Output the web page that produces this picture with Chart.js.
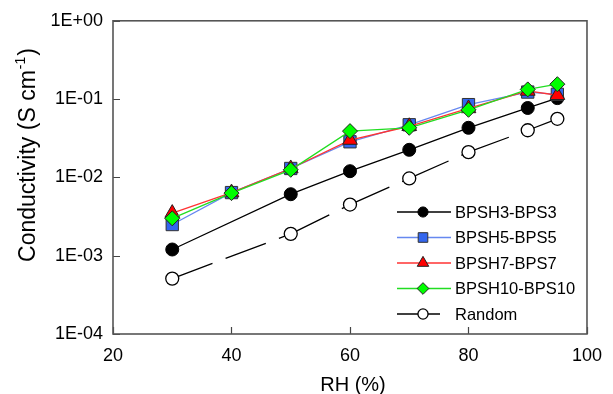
<!DOCTYPE html>
<html>
<head>
<meta charset="utf-8">
<script src="https://cdn.jsdelivr.net/npm/chart.js@4.4.1/dist/chart.umd.min.js"></script>
<style>
  html, body { margin: 0; padding: 0; background: #fff; }
</style>
</head>
<body>
<canvas id="myChart" width="613" height="394"></canvas>
<script>
// values (RH in %, conductivity in S/cm)
const rhFull = [30, 40, 50, 60, 70, 80, 90, 95];
const rhNo40 = [30, 50, 60, 70, 80, 90, 95];
const bpsh3 = [1.2e-3, 6.1e-3, 1.2e-2, 2.25e-2, 4.3e-2, 7.7e-2, 1.03e-1];
const bpsh5 = [2.5e-3, 6.4e-3, 1.3e-2, 2.85e-2, 4.7e-2, 8.5e-2, 1.23e-1, 1.15e-1];
const bpsh7 = [3.5e-3, 6.4e-3, 1.3e-2, 3.0e-2, 4.5e-2, 7.6e-2, 1.27e-1, 1.12e-1];
const bpsh10 = [3.0e-3, 6.3e-3, 1.25e-2, 3.9e-2, 4.3e-2, 7.3e-2, 1.33e-1, 1.55e-1];
const random = [5.1e-4, 1.9e-3, 4.5e-3, 9.7e-3, 2.1e-2, 4.0e-2, 5.6e-2];
const seriesNames = ['BPSH3-BPS3', 'BPSH5-BPS5', 'BPSH7-BPS7', 'BPSH10-BPS10', 'Random'];
const xTicks = [20, 40, 60, 80, 100];
const yTicks = [1e-4, 1e-3, 1e-2, 1e-1, 1];

const FONT = '"Liberation Sans", Arial, sans-serif';

const pts = (xs, ys) => xs.map((x, i) => ({ x: x, y: ys[i] }));

function expLabel(v) {
  const e = Math.round(Math.log10(v));
  return '1E' + (e < 0 ? '-' : '+') + String(Math.abs(e)).padStart(2, '0');
}

// draw a marker like chart.js pointStyle does
function marker(ctx, style, r, x, y, fill, stroke, bw) {
  ctx.save();
  ctx.beginPath();
  if (style === 'circle') {
    ctx.arc(x, y, r, 0, Math.PI * 2);
  } else if (style === 'rect') {
    const s = r * Math.SQRT1_2;
    ctx.rect(x - s, y - s, 2 * s, 2 * s);
  } else if (style === 'rectRot') {
    ctx.moveTo(x, y - r); ctx.lineTo(x + r, y); ctx.lineTo(x, y + r); ctx.lineTo(x - r, y);
    ctx.closePath();
  } else if (style === 'triangle') {
    for (let k = 0; k < 3; k++) {
      const a = k * 2 * Math.PI / 3;
      const px = x + Math.sin(a) * r, py = y - Math.cos(a) * r;
      k ? ctx.lineTo(px, py) : ctx.moveTo(px, py);
    }
    ctx.closePath();
  }
  ctx.fillStyle = fill;
  ctx.fill();
  ctx.lineWidth = bw;
  ctx.strokeStyle = stroke;
  ctx.stroke();
  ctx.restore();
}

const decor = {
  id: 'decor',
  afterDraw(chart) {
    const ctx = chart.ctx;
    const a = chart.chartArea;
    const xs = chart.scales.x, ys = chart.scales.y;
    ctx.save();
    // inward ticks
    ctx.strokeStyle = '#444';
    ctx.lineWidth = 1.2;
    ctx.beginPath();
    xTicks.forEach(v => {
      const px = Math.round(xs.getPixelForValue(v)) + 0.5;
      ctx.moveTo(px, a.bottom); ctx.lineTo(px, a.bottom - 7);
    });
    yTicks.forEach(v => {
      const py = Math.round(ys.getPixelForValue(v)) + 0.5;
      ctx.moveTo(a.left, py); ctx.lineTo(a.left + 7, py);
    });
    ctx.stroke();
    // frame
    ctx.lineWidth = 1.6;
    ctx.strokeStyle = '#555';
    ctx.strokeRect(a.left, a.top, a.right - a.left, a.bottom - a.top);

    // axis titles
    ctx.fillStyle = '#000';
    ctx.font = '20px ' + FONT;
    ctx.textAlign = 'center';
    ctx.textBaseline = 'alphabetic';
    ctx.fillText('RH (%)', (a.left + a.right) / 2 + 3, 391);

    ctx.save();
    ctx.translate(35, 155);
    ctx.rotate(-Math.PI / 2);
    ctx.textAlign = 'left';
    const main = 'Conductivity (S cm';
    ctx.font = '23px ' + FONT;
    const w1 = ctx.measureText(main).width;
    ctx.font = '14px ' + FONT;
    const w2 = ctx.measureText('-1').width;
    ctx.font = '23px ' + FONT;
    const w3 = ctx.measureText(')').width;
    let x0 = -(w1 + w2 + w3 + 2) / 2;
    ctx.fillText(main, x0, 0);
    ctx.font = '14px ' + FONT;
    ctx.fillText('-1', x0 + w1 + 1, -10);
    ctx.font = '23px ' + FONT;
    ctx.fillText(')', x0 + w1 + w2 + 2, 0);
    ctx.restore();

    // legend
    ctx.font = '16.5px ' + FONT;
    ctx.textAlign = 'left';
    ctx.textBaseline = 'middle';
    chart.data.datasets.forEach((ds, i) => {
      const y = 212 + i * 25.5;
      const dashed = ds.borderDash && ds.borderDash.length;
      ctx.save();
      ctx.strokeStyle = ds.borderColor;
      ctx.lineWidth = ds.borderWidth;
      ctx.beginPath();
      ctx.moveTo(397, y);
      ctx.lineTo(dashed ? 440 : 451, y);
      ctx.stroke();
      ctx.restore();
      marker(ctx, ds.pointStyle, ds.pointRadius * 0.78, 423, y,
        ds.pointBackgroundColor, ds.pointBorderColor, ds.pointBorderWidth);
      ctx.fillStyle = '#000';
      ctx.fillText(ds.label, 455, y + 1);
    });
    ctx.restore();
  }
};

const ctx = document.getElementById('myChart');
const myChart = new Chart(ctx, {
  type: 'line',
  data: {
    datasets: [{
      label: seriesNames[0],
      data: pts(rhNo40, bpsh3),
      borderColor: '#000', borderWidth: 1.3,
      pointStyle: 'circle', pointRadius: 6.5,
      pointBackgroundColor: '#000', pointBorderColor: '#000', pointBorderWidth: 1,
      order: 3
    }, {
      label: seriesNames[1],
      data: pts(rhFull, bpsh5),
      borderColor: '#6688f0', borderWidth: 1.3,
      pointStyle: 'rect', pointRadius: 8.7,
      pointBackgroundColor: '#3366ee', pointBorderColor: '#333', pointBorderWidth: 1,
      order: 2
    }, {
      label: seriesNames[2],
      data: pts(rhFull, bpsh7),
      borderColor: '#ff3333', borderWidth: 1.3,
      pointStyle: 'triangle', pointRadius: 8.5,
      pointBackgroundColor: '#ff0000', pointBorderColor: '#222', pointBorderWidth: 1,
      order: 1
    }, {
      label: seriesNames[3],
      data: pts(rhFull, bpsh10),
      borderColor: '#22dd22', borderWidth: 1.3,
      pointStyle: 'rectRot', pointRadius: 7.5,
      pointBackgroundColor: '#00ff00', pointBorderColor: '#222', pointBorderWidth: 1,
      order: 0
    }, {
      label: seriesNames[4],
      data: pts(rhNo40, random),
      borderColor: '#000', borderWidth: 1.3,
      borderDash: [43, 14],
      // restart the dash on every segment, like the original
      segment: { borderDashOffset: c => (c.p0DataIndex % 2) * 0.001 },
      pointStyle: 'circle', pointRadius: 6.5,
      pointBackgroundColor: '#fff', pointBorderColor: '#000', pointBorderWidth: 1.3,
      order: 4
    }]
  },
  options: {
    responsive: false,
    animation: false,
    devicePixelRatio: 1,
    layout: { padding: { top: 18, right: 18, left: 0, bottom: 0 } },
    plugins: { legend: { display: false }, tooltip: { enabled: false } },
    scales: {
      x: {
        type: 'linear', min: 20, max: 100,
        afterBuildTicks: s => { s.ticks = xTicks.map(v => ({ value: v })); },
        afterFit: s => { s.height = 60; },
        grid: { display: false, drawTicks: false },
        border: { display: false },
        ticks: { color: '#000', font: { family: FONT, size: 18 }, padding: 11, maxRotation: 0 }
      },
      y: {
        type: 'logarithmic', min: 1e-4, max: 1,
        afterBuildTicks: s => { s.ticks = yTicks.map(v => ({ value: v })); },
        afterFit: s => { s.width = 113; },
        grid: { display: false, drawTicks: false },
        border: { display: false },
        ticks: { color: '#000', font: { family: FONT, size: 18 }, padding: 10, callback: v => expLabel(v) }
      }
    }
  },
  plugins: [decor]
});
</script>
</body>
</html>
